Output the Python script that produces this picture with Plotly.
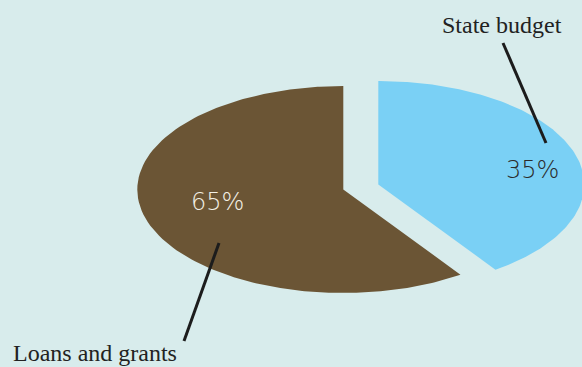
import math
import plotly.graph_objects as go

# Funding sources (percent of total)
categories = ["State budget", "Loans and grants"]
shares = [35, 65]

# Styling
colors = ["#7ad0f5", "#6b5535"]
pct_colors = ["#2b2b2b", "#f3f0e6"]
BG = "#d8ecec"

W, H = 582, 367

# Flattened pie geometry (pixel space of the plot area)
CX, CY = 360.8, 187.0
RX, RY = 206.0, 103.5
# offset of each slice from the common centre (pulled apart)
offsets = [(17.5, -2.5), (-17.5, 2.5)]

# label / leader placement
pct_pos = [(532, 170), (217, 202)]
name_pos = [(502, 25), (95, 353)]
leaders = [((503, 43), (546, 143)), ((219, 243), (184, 341))]


def ellipse_radius(theta):
    s, c = math.sin(theta), math.cos(theta)
    return 1.0 / math.sqrt((s / RX) ** 2 + (c / RY) ** 2)


def wedge(a0, a1, ox, oy, n=200):
    cx, cy = CX + ox, CY + oy
    xs, ys = [cx], [cy]
    for i in range(n + 1):
        t = a0 + (a1 - a0) * i / n
        r = ellipse_radius(t)
        xs.append(cx + r * math.sin(t))
        ys.append(cy - r * math.cos(t))
    xs.append(cx)
    ys.append(cy)
    return xs, ys


fig = go.Figure()

total = sum(shares)
start = 0.0
for cat, val, col, (ox, oy) in zip(categories, shares, colors, offsets):
    end = start + 2 * math.pi * val / total
    xs, ys = wedge(start, end, ox, oy)
    fig.add_trace(go.Scatter(
        x=xs, y=ys, mode="lines", fill="toself", fillcolor=col,
        line=dict(width=0, color=col), name=cat, hoverinfo="name",
        showlegend=False,
    ))
    start = end

for ((x0, y0), (x1, y1)) in leaders:
    fig.add_shape(type="line", x0=x0, y0=y0, x1=x1, y1=y1,
                  line=dict(color="#1c1c1c", width=3))

for val, (px, py), pc in zip(shares, pct_pos, pct_colors):
    fig.add_annotation(x=px, y=py, text=f"{val}%", showarrow=False,
                       font=dict(family="DejaVu Sans", size=24, color=pc, weight=300),
                       xanchor="center", yanchor="middle")

for cat, (nx, ny) in zip(categories, name_pos):
    fig.add_annotation(x=nx, y=ny, text=cat, showarrow=False,
                       font=dict(family="Liberation Serif", size=24, color="#222222"),
                       xanchor="center", yanchor="middle")

fig.update_layout(
    width=W, height=H,
    margin=dict(l=0, r=0, t=0, b=0),
    paper_bgcolor=BG, plot_bgcolor=BG,
    xaxis=dict(range=[0, W], visible=False, fixedrange=True),
    yaxis=dict(range=[H, 0], visible=False, fixedrange=True),
)

fig.write_html("out.html")
